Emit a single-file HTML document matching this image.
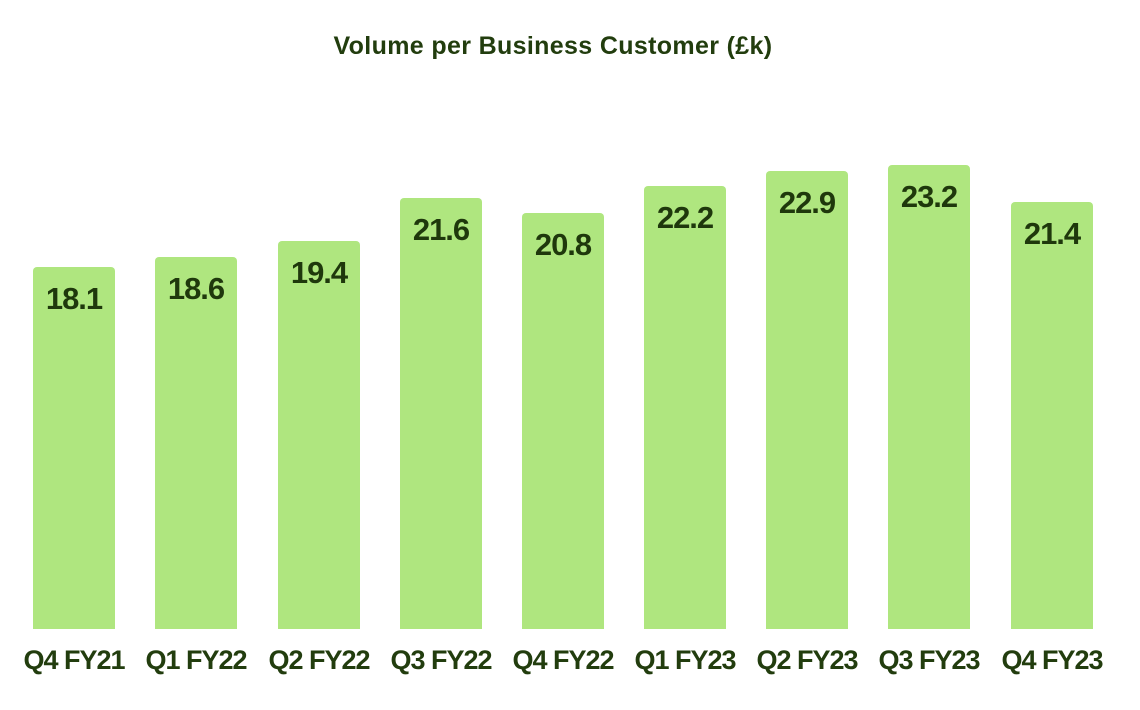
<!DOCTYPE html>
<html>
<head>
<meta charset="utf-8">
<style>
  html, body { margin:0; padding:0; background:#ffffff; }
  body { width:1140px; height:710px; position:relative; overflow:hidden;
         font-family:"Liberation Sans", Arial, sans-serif; }
  .title { position:absolute; left:0; width:1106px; top:31px; text-align:center;
           font-size:25px; font-weight:bold; color:#223d0e; letter-spacing:0.35px; line-height:30px; }
  .bar { position:absolute; width:82px; background:#afe67f; border-radius:4px 4px 0 0; }
  .val { position:absolute; width:82px; text-align:center; font-size:31px; font-weight:bold;
         color:#1f380c; letter-spacing:-1px; line-height:31px; }
  .lab { position:absolute; width:122px; text-align:center; font-size:27px; font-weight:bold;
         color:#223d0e; letter-spacing:-1px; line-height:27px; top:647px; }
</style>
</head>
<body>
<div class="title">Volume per Business Customer (£k)</div>

<div class="bar" style="left:33px;top:267px;height:362px"></div>
<div class="bar" style="left:155px;top:257px;height:372px"></div>
<div class="bar" style="left:278px;top:241px;height:388px"></div>
<div class="bar" style="left:400px;top:198px;height:431px"></div>
<div class="bar" style="left:522px;top:213px;height:416px"></div>
<div class="bar" style="left:644px;top:186px;height:443px"></div>
<div class="bar" style="left:766px;top:171px;height:458px"></div>
<div class="bar" style="left:888px;top:165px;height:464px"></div>
<div class="bar" style="left:1011px;top:202px;height:427px"></div>

<div class="val" style="left:33px;top:283px">18.1</div>
<div class="val" style="left:155px;top:273px">18.6</div>
<div class="val" style="left:278px;top:257px">19.4</div>
<div class="val" style="left:400px;top:214px">21.6</div>
<div class="val" style="left:522px;top:229px">20.8</div>
<div class="val" style="left:644px;top:202px">22.2</div>
<div class="val" style="left:766px;top:187px">22.9</div>
<div class="val" style="left:888px;top:181px">23.2</div>
<div class="val" style="left:1011px;top:218px">21.4</div>

<div class="lab" style="left:13px">Q4 FY21</div>
<div class="lab" style="left:135px">Q1 FY22</div>
<div class="lab" style="left:258px">Q2 FY22</div>
<div class="lab" style="left:380px">Q3 FY22</div>
<div class="lab" style="left:502px">Q4 FY22</div>
<div class="lab" style="left:624px">Q1 FY23</div>
<div class="lab" style="left:746px">Q2 FY23</div>
<div class="lab" style="left:868px">Q3 FY23</div>
<div class="lab" style="left:991px">Q4 FY23</div>
</body>
</html>
